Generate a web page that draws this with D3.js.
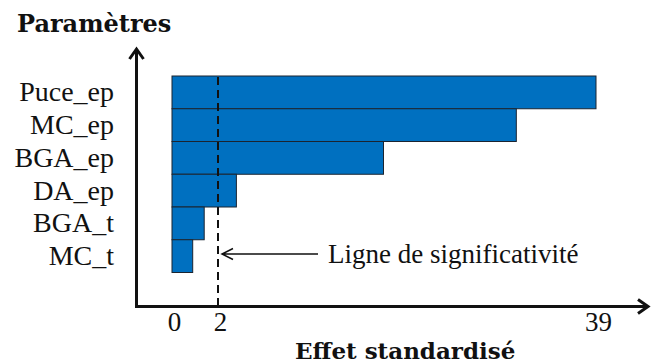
<!DOCTYPE html>
<html lang="fr">
<head>
  <meta charset="UTF-8">
  <title>Effet standardisé</title>
  <style>
    body { margin: 0; background: #fff; }
    svg { display: block; }
  </style>
</head>
<body>
  <div id="chart"></div>
  <script src="https://d3js.org/d3.v7.min.js"></script>
  <script>
    const categories = ['Puce_ep', 'MC_ep', 'BGA_ep', 'DA_ep', 'BGA_t', 'MC_t'];
    const effects = [39, 31.2, 18.2, 3.8, 1.4, 0.9];
    const tickValues = [0, 2, 39];
    const threshold = 2;

    const width = 651, height = 363;
    const axisX = 136.5, axisY = 306.5;
    const serif = "'Liberation Serif', serif";
    const boldSerif = "'DejaVu Serif', serif";

    const svg = d3.select('#chart').append('svg')
      .attr('width', width).attr('height', height);

    // axis is not linear in the figure: 0..2 is stretched
    const x = d3.scaleLinear().domain([0, 2, 39]).range([172, 218, 596]);
    const y = d3.scaleBand().domain(categories).range([76, 272.5]).padding(0);

    const data = categories.map((c, i) => ({ name: c, value: effects[i] }));

    svg.selectAll('rect.bar')
      .data(data)
      .join('rect')
      .attr('class', 'bar')
      .attr('x', x(0))
      .attr('y', d => y(d.name))
      .attr('width', d => x(d.value) - x(0))
      .attr('height', y.bandwidth())
      .attr('fill', '#0070C0')
      .attr('stroke', '#1b2430')
      .attr('stroke-width', 1);

    // category labels
    const yAxis = svg.append('g')
      .attr('transform', `translate(${x(0)},0)`)
      .call(d3.axisLeft(y).tickSize(0).tickPadding(58));
    yAxis.select('.domain').remove();
    yAxis.attr('font-family', null).attr('font-size', null);
    yAxis.selectAll('text')
      .style('font-family', serif)
      .style('font-size', '28px')
      .attr('fill', '#111');

    // tick labels
    const xAxis = svg.append('g')
      .attr('transform', `translate(2,${axisY})`)
      .call(d3.axisBottom(x).tickValues(tickValues).tickSize(0).tickPadding(5.5));
    xAxis.select('.domain').remove();
    xAxis.attr('font-family', null).attr('font-size', null);
    xAxis.selectAll('text')
      .style('font-family', serif)
      .style('font-size', '27px')
      .attr('fill', '#111');

    // significance line
    svg.append('line')
      .attr('x1', x(threshold)).attr('x2', x(threshold))
      .attr('y1', y(categories[0]) + 1).attr('y2', axisY)
      .attr('stroke', '#111')
      .attr('stroke-width', 2)
      .attr('stroke-dasharray', '8,5');

    // axes with arrows
    svg.append('path')
      .attr('d', `M${axisX},${axisY + 1.5} V49 M${axisX - 7},59 L${axisX},49 L${axisX + 7},59`)
      .attr('fill', 'none')
      .attr('stroke', '#111')
      .attr('stroke-width', 3);
    svg.append('path')
      .attr('d', `M${axisX - 1.5},${axisY} H648 M638,${axisY - 7} L648,${axisY} L638,${axisY + 7}`)
      .attr('fill', 'none')
      .attr('stroke', '#111')
      .attr('stroke-width', 3);

    // annotation arrow
    const annY = 254;
    svg.append('path')
      .attr('d', `M318,${annY} H${x(threshold) + 4} M${x(threshold) + 15},${annY - 5.5} L${x(threshold) + 4},${annY} L${x(threshold) + 15},${annY + 5.5}`)
      .attr('fill', 'none')
      .attr('stroke', '#111')
      .attr('stroke-width', 1.5);

    svg.append('text')
      .attr('x', 328).attr('y', 263)
      .style('font-family', serif)
      .style('font-size', '27px')
      .attr('fill', '#111')
      .text('Ligne de significativité');

    svg.append('text')
      .attr('x', 17).attr('y', 32)
      .style('font-family', boldSerif)
      .style('font-weight', 'bold')
      .style('font-size', '24px')
      .attr('fill', '#111')
      .text('Paramètres');

    svg.append('text')
      .attr('x', 295).attr('y', 359)
      .style('font-family', boldSerif)
      .style('font-weight', 'bold')
      .style('font-size', '23px')
      .attr('fill', '#111')
      .text('Effet standardisé');
  </script>
</body>
</html>
